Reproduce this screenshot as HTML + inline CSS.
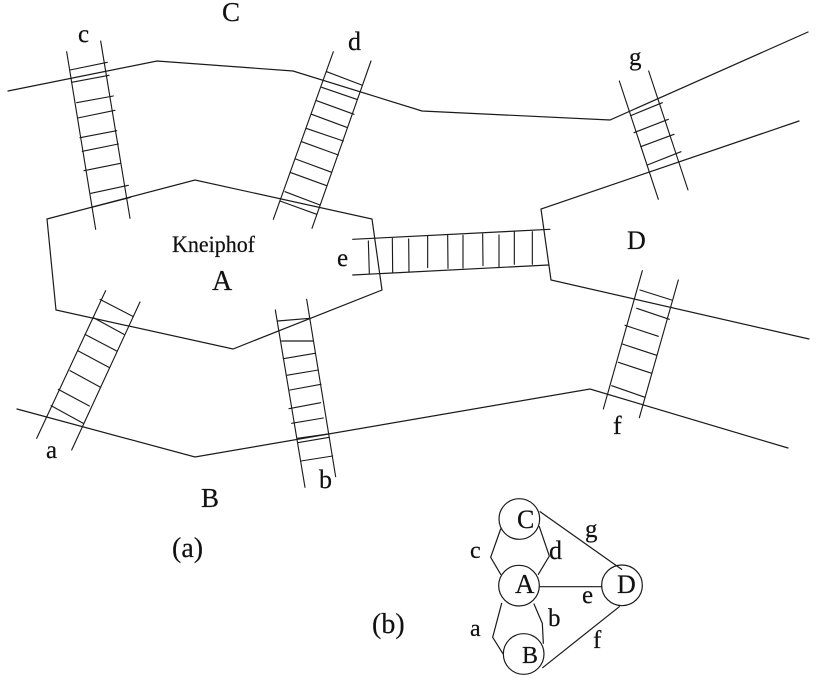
<!DOCTYPE html>
<html>
<head>
<meta charset="utf-8">
<style>
html,body{margin:0;padding:0;background:#fff;width:817px;height:682px;overflow:hidden}
svg{display:block;filter:blur(0.25px)}
text{font-family:"Liberation Serif",serif;fill:#111;stroke:#111;stroke-width:0.2}
path{fill:none;stroke:#1a1a1a;stroke-linecap:round;stroke-linejoin:miter}
</style>
</head>
<body>
<svg width="817" height="682" viewBox="0 0 817 682" xmlns="http://www.w3.org/2000/svg">
<g stroke-width="1.2">
<path stroke-width="1.2" d="M8 91L157 61L293 71L422 111L610 120L808 32"/>
<path stroke-width="1.2" d="M799 121L541 209L551 280L809 339"/>
<path stroke-width="1.2" d="M17 409L195 457L590 389L788 448"/>
<path stroke-width="1.2" d="M47 219L195 180L372 219L382 290L233 349L56 310Z"/>
</g>
<!-- bridge c, d -->
<g transform="scale(0.33333)">
<path stroke-width="3.4" d="M200 155L287 688M302 123L390 655"/>
<path stroke-width="3.4" d="M210 210L322 187M215 247L327 226M230 308L340 288M233 354L345 331M240 413L350 392M247 454L355 432M252 512L362 490M273 580L385 556M275 622L392 592"/>
<path stroke-width="3.4" d="M1000 155L820 658M1113 183L936 685"/>
<path stroke-width="3.4" d="M980 215L1085 255M965 262L1070 298M950 302L1062 343M935 343L1040 382M918 385L1030 423M905 425L1015 465M887 477L995 517M870 517L980 557M855 575L960 615M840 603L950 643"/>
</g>
<!-- bridge g -->
<g transform="translate(410 0) scale(0.33333)">
<path stroke-width="3.4" d="M628 243L745 598M716 213L834 570"/>
<path stroke-width="3.4" d="M662 347L757 308M672 398L775 358M692 440L792 403M712 495L813 455"/>
</g>
<!-- bridge a, b -->
<g transform="translate(0 250) scale(0.33333)">
<path stroke-width="3.4" d="M317 122L110 565M420 156L215 600"/>
<path stroke-width="3.4" d="M300 148L400 200M280 203L372 253M255 253L350 303M233 302L327 352M210 362L302 412M175 418L268 468M153 467L250 520"/>
<path stroke-width="3.4" d="M826 180L915 712M920 148L1007 680"/>
<path stroke-width="3.4" d="M833 213L930 205M845 273L940 273M850 326L945 310M860 376L955 360M870 420L963 403M867 476L962 458M875 520L970 504M892 565L985 552M893 578L988 562M903 633L998 618"/>
</g>
<!-- bridge f -->
<g transform="translate(410 220) scale(0.33333)">
<path stroke-width="3.4" d="M697 152L580 567M805 180L688 593"/>
<path stroke-width="3.4" d="M690 210L785 240M680 265L778 298M645 316L745 349M637 372L740 406M625 427L725 460M605 497L705 532"/>
</g>
<!-- bridge e -->
<g transform="translate(330 210) scale(0.33333)">
<path stroke-width="3.6" d="M68 88L660 58M68 195L655 165"/>
<path stroke-width="3.4" d="M115 93L118 190M187 85L188 187M236 87L237 186M293 78L293 173M353 75L354 175M399 76L399 174M458 72L459 167M507 75L507 172M553 65L553 163M607 65L607 163"/>
</g>
<!-- graph (b) -->
<g transform="translate(350 480) scale(0.33333)">
<circle cx="508" cy="117" r="61" fill="none" stroke="#1a1a1a" stroke-width="3.6"/>
<circle cx="507" cy="317" r="61" fill="none" stroke="#1a1a1a" stroke-width="3.6"/>
<circle cx="816" cy="316" r="61" fill="none" stroke="#1a1a1a" stroke-width="3.6"/>
<circle cx="521" cy="522" r="61" fill="none" stroke="#1a1a1a" stroke-width="3.6"/>
<path stroke-width="3.6" d="M570 95L815 268M570 320L755 320M808 380L578 563M452 147L422 232L452 283M568 140L598 228L565 283M455 370L428 472L458 520M552 372L577 430L580 490"/>
</g>
<!-- labels (a) -->
<text x="222" y="21" font-size="27">C</text>
<text x="78" y="42" font-size="25">c</text>
<text x="348" y="50" font-size="26">d</text>
<text x="629" y="65" font-size="25">g</text>
<text x="627" y="249" font-size="26">D</text>
<text x="337" y="266" font-size="25">e</text>
<text x="172" y="252" font-size="23" textLength="83" lengthAdjust="spacingAndGlyphs">Kneiphof</text>
<text x="212" y="290" font-size="28">A</text>
<text x="46" y="458" font-size="25">a</text>
<text x="319" y="488" font-size="26">b</text>
<text x="613" y="434" font-size="26">f</text>
<text x="201" y="507" font-size="27">B</text>
<text x="172" y="557" font-size="28">(a)</text>
<text x="372" y="633" font-size="28">(b)</text>
<!-- labels (b) -->
<text x="517" y="528" font-size="26">C</text>
<text x="515" y="593" font-size="27">A</text>
<text x="617" y="593" font-size="26">D</text>
<text x="522" y="663" font-size="24">B</text>
<text x="470" y="558" font-size="24">c</text>
<text x="549" y="559" font-size="26">d</text>
<text x="585" y="537" font-size="25">g</text>
<text x="582" y="603" font-size="25">e</text>
<text x="548" y="626" font-size="25">b</text>
<text x="470" y="636" font-size="24">a</text>
<text x="593" y="648" font-size="25">f</text>
</svg>
</body>
</html>
